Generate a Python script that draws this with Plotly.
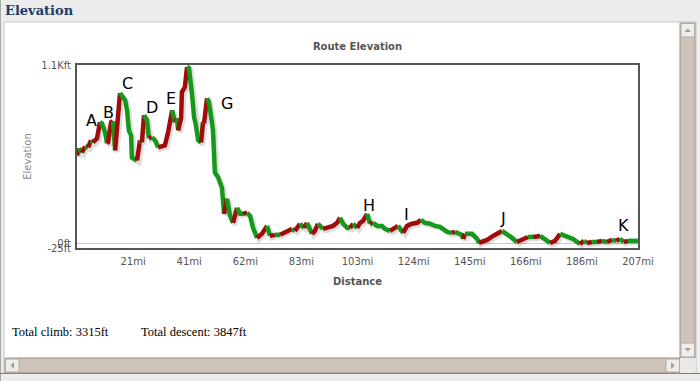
import plotly.graph_objects as go

# ---------------- data ----------------
distance_mi = [0.0, 0.7, 1.8, 3.0, 4.1, 5.2, 5.9, 7.4, 8.5, 9.2, 10.4, 11.1, 11.5, 12.6, 13.3, 14.1,
               15.2, 15.9, 17.0, 17.8, 18.5, 19.2, 20.0, 20.3, 22.2, 23.3, 24.0, 24.8, 25.9, 26.6,
               27.7, 28.9, 30.0, 31.4, 32.5, 33.7, 34.4, 35.2, 35.9, 36.2, 37.0, 37.4, 38.5, 38.8,
               39.9, 40.7, 41.4, 42.5, 43.3, 44.0, 44.8, 45.9, 46.6, 47.0, 48.1, 48.8, 49.9, 50.3,
               51.0, 52.2, 53.6, 54.4, 55.5, 56.6, 57.7, 59.2, 60.3, 61.4, 62.9, 64.0, 65.1, 66.6,
               68.4, 70.3, 71.4, 73.2, 75.1, 76.2, 78.0, 79.5, 80.6, 82.5, 84.0, 85.1, 86.9, 88.0,
               89.1, 91.0, 92.8, 94.7, 96.2, 97.3, 98.4, 99.9, 101.0, 102.1, 103.6, 104.7, 105.8,
               107.3, 108.4, 109.5, 111.0, 112.8, 113.9, 115.8, 117.3, 118.7, 120.6, 122.1, 123.9,
               125.8, 127.2, 128.7, 130.6, 132.4, 134.3, 136.9, 138.7, 139.8, 142.4, 142.8, 143.5,
               146.1, 148.0, 148.7, 151.7, 153.9, 157.2, 159.0, 160.9, 162.7, 164.6, 166.8, 168.7,
               171.3, 173.1, 175.0, 176.8, 178.7, 181.2, 183.5, 186.0, 187.5, 188.6, 190.5, 192.3,
               194.2, 196.0, 197.9, 199.4, 200.8, 202.3, 203.8, 205.7, 207.5]
elevation_ft = [544, 587, 562, 599, 593, 637, 624, 649, 748, 742, 686, 618, 624, 748, 754, 575,
                822, 927, 896, 884, 822, 698, 667, 531, 513, 637, 624, 791, 760, 649,
                655, 637, 593, 599, 606, 686, 742, 822, 779, 748, 773, 698, 773, 933,
                964, 1088, 1082, 927, 779, 729, 637, 624, 748, 742, 896, 871, 748, 698,
                439, 408, 346, 185, 278, 173, 130, 222, 185, 185, 192, 173, 99, 37,
                62, 111, 49, 56, 56, 68, 80, 93, 80, 124, 99, 130, 62, 80,
                124, 93, 99, 111, 130, 161, 124, 99, 99, 124, 99, 130, 142,
                185, 124, 130, 111, 111, 93, 80, 93, 111, 68, 111, 124,
                130, 148, 130, 124, 111, 105, 74, 68, 74, 56, 31, 62,
                62, 31, 6, 25, 49, 80, 62, 37, 12, 25, 43, 43,
                49, 31, 6, 19, 62, 43, 31, 0, 19, 6, 12, 12,
                19, 12, 25, 19, 31, 12, 19, 19, 19]

waypoint_labels = ["A", "B", "C", "D", "E", "F", "G", "H", "I", "J", "K"]
waypoint_mi = [5.2, 11.5, 18.5, 27.7, 34.7, 39.2, 55.5, 108.0, 121.7, 157.6, 202.0]
waypoint_ft = [760, 810, 989, 840, 896, 1149, 865, 235, 179, 155, 111]

x_tick_labels = ["21mi", "41mi", "62mi", "83mi", "103mi", "124mi", "145mi", "166mi", "186mi", "207mi"]
y_tick_values = [-25, 0, 1100]
y_tick_labels = ["-25ft", "0ft", "1.1Kft"]

total_climb_ft = 3315
total_descent_ft = 3847

# ---------------- figure ----------------
W, H = 700, 381
L, R, T, B = 77, 638, 65, 248
max_mi = distance_mi[-1]


def px_x(px):
    return (px - L) / (R - L)


def px_y(py):
    return (B - py) / (B - T)


CLIMB = "#a00c0c"
DESCENT = "#16991a"

fig = go.Figure()

# drop shadow
fig.add_trace(go.Scatter(
    x=[d + 0.75 for d in distance_mi], y=[e - 12 for e in elevation_ft],
    mode="lines", line=dict(color="rgba(0,0,0,0.13)", width=5),
    hoverinfo="skip", showlegend=False))

# coloured runs: climbing = red, descending/flat = green
runs = []
for i in range(len(distance_mi) - 1):
    c = CLIMB if elevation_ft[i + 1] > elevation_ft[i] else DESCENT
    if runs and runs[-1][0] == c:
        runs[-1][1].append(i + 1)
    else:
        runs.append([c, [i, i + 1]])
for c, idx in runs:
    fig.add_trace(go.Scatter(
        x=[distance_mi[k] for k in idx], y=[elevation_ft[k] for k in idx],
        mode="lines", line=dict(color=c, width=4.5),
        hoverinfo="skip", showlegend=False))

annotations = []
for lab, xm, yf in zip(waypoint_labels, waypoint_mi, waypoint_ft):
    annotations.append(dict(x=xm, y=yf, xref="x", yref="y", text=lab, showarrow=False,
                            font=dict(family="DejaVu Sans", size=16, color="#000000"),
                            xanchor="center", yanchor="middle"))

# page texts
annotations.append(dict(x=px_x(3), y=px_y(11), xref="paper", yref="paper", text="<b>Elevation</b>",
                        showarrow=False, xanchor="left", yanchor="middle",
                        font=dict(family="DejaVu Serif", size=13, color="#1c3a66")))
annotations.append(dict(x=px_x(10), y=px_y(332), xref="paper", yref="paper",
                        text=f"Total climb: {total_climb_ft}ft", showarrow=False,
                        xanchor="left", yanchor="middle",
                        font=dict(family="Liberation Serif", size=12.5, color="#000000")))
annotations.append(dict(x=px_x(139), y=px_y(332), xref="paper", yref="paper",
                        text=f"Total descent: {total_descent_ft}ft", showarrow=False,
                        xanchor="left", yanchor="middle",
                        font=dict(family="Liberation Serif", size=12.5, color="#000000")))


def rect(x0, y0, x1, y1, fill, line=None, lw=1, layer="below"):
    return dict(type="rect", xref="paper", yref="paper",
                x0=px_x(x0), x1=px_x(x1), y0=px_y(y0), y1=px_y(y1),
                fillcolor=fill, line=dict(color=line or fill, width=lw if line else 0), layer=layer)


def seg(x0, y0, x1, y1, color, lw=1):
    return dict(type="line", xref="paper", yref="paper",
                x0=px_x(x0), x1=px_x(x1), y0=px_y(y0), y1=px_y(y1),
                line=dict(color=color, width=lw), layer="below")


def tri(points, color):
    path = "M " + " L ".join(f"{px_x(a)},{px_y(b)}" for a, b in points) + " Z"
    return dict(type="path", xref="paper", yref="paper", path=path,
                fillcolor=color, line=dict(width=0), layer="above")


TRACK = "#cdc3b9"
BTN = "#efede9"
EDGE = "#9a9086"
shapes = [
    rect(4, 22, 696, 373, "#ffffff", "#c8c8c8"),
    seg(0.5, 0, 0.5, 381, "#a8a8a8"),
    seg(0, 373.5, 700, 373.5, "#7a7a7a"),
    # vertical scrollbar
    rect(680, 23, 695, 358, TRACK, EDGE, layer="above"),
    rect(681, 23.5, 694.5, 37, BTN, "#b5aca2", layer="above"),
    rect(681, 343, 694.5, 357, BTN, "#b5aca2", layer="above"),
    tri([(684.5, 32), (691, 32), (687.75, 28.5)], "#a59b91"),
    tri([(684.5, 348), (691, 348), (687.75, 351.5)], "#a59b91"),
    # horizontal scrollbar
    rect(5, 358, 680, 373, TRACK, EDGE, layer="above"),
    rect(5.5, 359, 19, 372, BTN, "#b5aca2", layer="above"),
    rect(666, 359, 679.5, 372, BTN, "#b5aca2", layer="above"),
    tri([(14, 362), (14, 369), (10.5, 365.5)], "#a59b91"),
    tri([(671, 362), (671, 369), (674.5, 365.5)], "#a59b91"),
    rect(680, 358, 695, 373, "#ece9e4", layer="above"),
]

fig.update_layout(
    width=W, height=H,
    margin=dict(l=L, r=W - R, t=T, b=H - B, pad=0),
    paper_bgcolor="#ececec", plot_bgcolor="rgba(0,0,0,0)",
    showlegend=False,
    title=dict(text="<b>Route Elevation</b>", x=0.5, xref="paper", xanchor="center",
               y=1 - 46 / H, yanchor="middle",
               font=dict(family="DejaVu Sans", size=10, color="#555555")),
    xaxis=dict(range=[0, max_mi], tickvals=[max_mi * k / 10 for k in range(1, 11)],
               ticktext=x_tick_labels, showgrid=False, zeroline=False,
               showline=True, mirror=True, linecolor="#555555", linewidth=2,
               ticks="outside", ticklen=3, tickcolor="rgba(0,0,0,0)",
               tickfont=dict(family="DejaVu Sans", size=10, color="#555555"),
               title=dict(text="<b>Distance</b>", standoff=12,
                          font=dict(family="DejaVu Sans", size=10, color="#555555"))),
    yaxis=dict(range=[-25, 1100], tickvals=y_tick_values, ticktext=y_tick_labels,
               showgrid=True, gridcolor="#cccccc", gridwidth=1, zeroline=False,
               showline=True, mirror=True, linecolor="#555555", linewidth=2,
               ticks="outside", ticklen=2, tickcolor="rgba(0,0,0,0)",
               tickfont=dict(family="DejaVu Sans", size=10, color="#555555"),
               title=dict(text="Elevation", standoff=8,
                          font=dict(family="DejaVu Sans", size=10, color="#888888"))),
    annotations=annotations,
    shapes=shapes,
)

fig.write_html("out.html", config={"displayModeBar": False},
               post_script="document.body.style.margin='0px';document.body.style.overflow='hidden';")
